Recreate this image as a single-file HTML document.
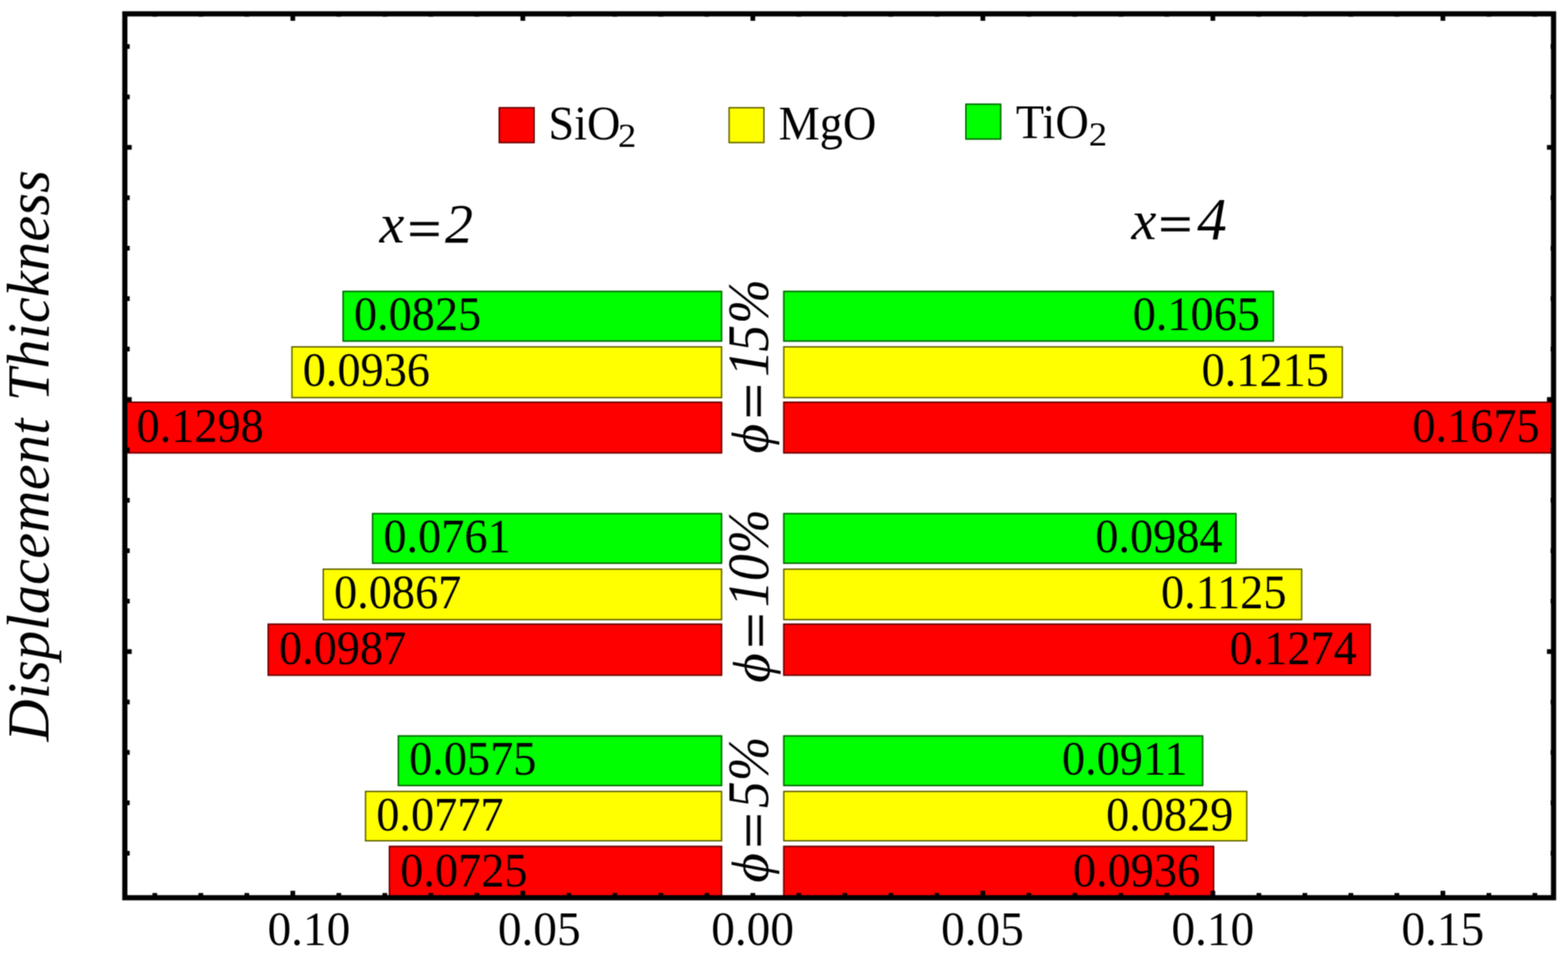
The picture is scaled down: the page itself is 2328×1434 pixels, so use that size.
<!DOCTYPE html>
<html lang="en"><head><meta charset="utf-8"><title>Displacement Thickness</title>
<style>
html,body{margin:0;padding:0;background:#fff;}
body{width:2328px;height:1434px;overflow:hidden;}
svg{display:block;}
text{font-family:"Liberation Serif","DejaVu Serif",serif;fill:#000;}
.v{font-size:71px;}
.i{font-style:italic;}
.bar{stroke:rgba(0,0,0,0.64);stroke-width:2.0;}
</style></head><body>
<svg width="2328" height="1434" viewBox="0 0 2328 1434" filter="url(#soft)">
<rect x="0" y="0" width="2328" height="1434" fill="#fff"/>
<defs><filter id="soft" x="0" y="0" width="100%" height="100%" color-interpolation-filters="sRGB"><feConvolveMatrix order="3" kernelMatrix="1 2 1 2 4 2 1 2 1" divisor="16" edgeMode="duplicate" preserveAlpha="true"/></filter><clipPath id="plot"><rect x="185.35" y="20.55" width="2121.2000000000003" height="1312.1000000000001"/></clipPath></defs>

<g clip-path="url(#plot)">
<rect x="508.45" y="431.60" width="563.85" height="75.70" fill="#00ff00"/>
<rect class="bar" x="509.45" y="432.60" width="561.85" height="73.70" fill="none"/>
<rect x="1162.70" y="431.60" width="728.85" height="75.70" fill="#00ff00"/>
<rect class="bar" x="1163.70" y="432.60" width="726.85" height="73.70" fill="none"/>
<rect x="432.45" y="513.90" width="639.85" height="77.30" fill="#ffff00"/>
<rect class="bar" x="433.45" y="514.90" width="637.85" height="75.30" fill="none"/>
<rect x="1162.70" y="513.90" width="831.20" height="77.30" fill="#ffff00"/>
<rect class="bar" x="1163.70" y="514.90" width="829.20" height="75.30" fill="none"/>
<rect x="185.70" y="596.10" width="886.60" height="77.20" fill="#ff0000"/>
<rect class="bar" x="186.70" y="597.10" width="884.60" height="75.20" fill="none"/>
<rect x="1162.70" y="596.10" width="1144.10" height="77.20" fill="#ff0000"/>
<rect class="bar" x="1163.70" y="597.10" width="1142.10" height="75.20" fill="none"/>
<rect x="552.20" y="761.50" width="520.10" height="75.60" fill="#00ff00"/>
<rect class="bar" x="553.20" y="762.50" width="518.10" height="73.60" fill="none"/>
<rect x="1162.70" y="761.50" width="673.35" height="75.60" fill="#00ff00"/>
<rect class="bar" x="1163.70" y="762.50" width="671.35" height="73.60" fill="none"/>
<rect x="478.95" y="843.90" width="593.35" height="76.90" fill="#ffff00"/>
<rect class="bar" x="479.95" y="844.90" width="591.35" height="74.90" fill="none"/>
<rect x="1162.70" y="843.90" width="770.85" height="76.90" fill="#ffff00"/>
<rect class="bar" x="1163.70" y="844.90" width="768.85" height="74.90" fill="none"/>
<rect x="397.20" y="925.60" width="675.10" height="77.70" fill="#ff0000"/>
<rect class="bar" x="398.20" y="926.60" width="673.10" height="75.70" fill="none"/>
<rect x="1162.70" y="925.60" width="872.60" height="77.70" fill="#ff0000"/>
<rect class="bar" x="1163.70" y="926.60" width="870.60" height="75.70" fill="none"/>
<rect x="590.45" y="1091.50" width="481.85" height="75.60" fill="#00ff00"/>
<rect class="bar" x="591.45" y="1092.50" width="479.85" height="73.60" fill="none"/>
<rect x="1162.70" y="1091.50" width="623.85" height="75.60" fill="#00ff00"/>
<rect class="bar" x="1163.70" y="1092.50" width="621.85" height="73.60" fill="none"/>
<rect x="541.70" y="1173.90" width="530.60" height="75.20" fill="#ffff00"/>
<rect class="bar" x="542.70" y="1174.90" width="528.60" height="73.20" fill="none"/>
<rect x="1162.70" y="1173.90" width="689.35" height="75.20" fill="#ffff00"/>
<rect class="bar" x="1163.70" y="1174.90" width="687.35" height="73.20" fill="none"/>
<rect x="577.20" y="1255.50" width="495.10" height="78.80" fill="#ff0000"/>
<rect class="bar" x="578.20" y="1256.50" width="493.10" height="76.80" fill="none"/>
<rect x="1162.70" y="1255.50" width="640.10" height="78.80" fill="#ff0000"/>
<rect class="bar" x="1163.70" y="1256.50" width="638.10" height="76.80" fill="none"/>
</g>
<text font-size="71" transform="translate(525.45 490.20) scale(0.968 1)">0.0825</text>
<text font-size="71" transform="translate(1681.65 490.20) scale(0.968 1)">0.1065</text>
<text font-size="71" transform="translate(449.45 573.20) scale(0.968 1)">0.0936</text>
<text font-size="71" transform="translate(1784.00 573.20) scale(0.968 1)">0.1215</text>
<text font-size="71" transform="translate(202.70 656.20) scale(0.968 1)">0.1298</text>
<text font-size="71" transform="translate(2096.90 656.20) scale(0.968 1)">0.1675</text>
<text font-size="71" transform="translate(569.20 820.00) scale(0.968 1)">0.0761</text>
<text font-size="71" transform="translate(1626.15 820.00) scale(0.968 1)">0.0984</text>
<text font-size="71" transform="translate(495.95 903.00) scale(0.968 1)">0.0867</text>
<text font-size="71" transform="translate(1723.65 903.00) scale(0.968 1)">0.1125</text>
<text font-size="71" transform="translate(414.20 986.00) scale(0.968 1)">0.0987</text>
<text font-size="71" transform="translate(1825.40 986.00) scale(0.968 1)">0.1274</text>
<text font-size="71" transform="translate(607.45 1149.80) scale(0.968 1)">0.0575</text>
<text font-size="71" transform="translate(1576.65 1149.80) scale(0.968 1)">0.0911</text>
<text font-size="71" transform="translate(558.70 1232.80) scale(0.968 1)">0.0777</text>
<text font-size="71" transform="translate(1642.15 1232.80) scale(0.968 1)">0.0829</text>
<text font-size="71" transform="translate(594.20 1315.80) scale(0.968 1)">0.0725</text>
<text font-size="71" transform="translate(1592.90 1315.80) scale(0.968 1)">0.0936</text>
<g stroke="#000" stroke-width="7" fill="none">
<line x1="229.85" y1="1332.65" x2="229.85" y2="1325.65"/>
<line x1="229.85" y1="20.55" x2="229.85" y2="24.60"/>
<line x1="298.15" y1="1332.65" x2="298.15" y2="1325.65"/>
<line x1="298.15" y1="20.55" x2="298.15" y2="24.60"/>
<line x1="366.45" y1="1332.65" x2="366.45" y2="1325.65"/>
<line x1="366.45" y1="20.55" x2="366.45" y2="24.60"/>
<line x1="434.75" y1="1332.65" x2="434.75" y2="1322.35"/>
<line x1="434.75" y1="20.55" x2="434.75" y2="30.85"/>
<line x1="503.05" y1="1332.65" x2="503.05" y2="1325.65"/>
<line x1="503.05" y1="20.55" x2="503.05" y2="24.60"/>
<line x1="571.35" y1="1332.65" x2="571.35" y2="1325.65"/>
<line x1="571.35" y1="20.55" x2="571.35" y2="24.60"/>
<line x1="639.65" y1="1332.65" x2="639.65" y2="1325.65"/>
<line x1="639.65" y1="20.55" x2="639.65" y2="24.60"/>
<line x1="707.95" y1="1332.65" x2="707.95" y2="1325.65"/>
<line x1="707.95" y1="20.55" x2="707.95" y2="24.60"/>
<line x1="776.25" y1="1332.65" x2="776.25" y2="1322.35"/>
<line x1="776.25" y1="20.55" x2="776.25" y2="30.85"/>
<line x1="844.55" y1="1332.65" x2="844.55" y2="1325.65"/>
<line x1="844.55" y1="20.55" x2="844.55" y2="24.60"/>
<line x1="912.85" y1="1332.65" x2="912.85" y2="1325.65"/>
<line x1="912.85" y1="20.55" x2="912.85" y2="24.60"/>
<line x1="981.15" y1="1332.65" x2="981.15" y2="1325.65"/>
<line x1="981.15" y1="20.55" x2="981.15" y2="24.60"/>
<line x1="1049.45" y1="1332.65" x2="1049.45" y2="1325.65"/>
<line x1="1049.45" y1="20.55" x2="1049.45" y2="24.60"/>
<line x1="1117.75" y1="1332.65" x2="1117.75" y2="1325.65"/>
<line x1="1117.75" y1="20.55" x2="1117.75" y2="30.85"/>
<line x1="1186.05" y1="1332.65" x2="1186.05" y2="1325.65"/>
<line x1="1186.05" y1="20.55" x2="1186.05" y2="24.60"/>
<line x1="1254.35" y1="1332.65" x2="1254.35" y2="1325.65"/>
<line x1="1254.35" y1="20.55" x2="1254.35" y2="24.60"/>
<line x1="1322.65" y1="1332.65" x2="1322.65" y2="1325.65"/>
<line x1="1322.65" y1="20.55" x2="1322.65" y2="24.60"/>
<line x1="1390.95" y1="1332.65" x2="1390.95" y2="1325.65"/>
<line x1="1390.95" y1="20.55" x2="1390.95" y2="24.60"/>
<line x1="1459.25" y1="1332.65" x2="1459.25" y2="1322.35"/>
<line x1="1459.25" y1="20.55" x2="1459.25" y2="30.85"/>
<line x1="1527.55" y1="1332.65" x2="1527.55" y2="1325.65"/>
<line x1="1527.55" y1="20.55" x2="1527.55" y2="24.60"/>
<line x1="1595.85" y1="1332.65" x2="1595.85" y2="1325.65"/>
<line x1="1595.85" y1="20.55" x2="1595.85" y2="24.60"/>
<line x1="1664.15" y1="1332.65" x2="1664.15" y2="1325.65"/>
<line x1="1664.15" y1="20.55" x2="1664.15" y2="24.60"/>
<line x1="1732.45" y1="1332.65" x2="1732.45" y2="1325.65"/>
<line x1="1732.45" y1="20.55" x2="1732.45" y2="24.60"/>
<line x1="1800.75" y1="1332.65" x2="1800.75" y2="1322.35"/>
<line x1="1800.75" y1="20.55" x2="1800.75" y2="30.85"/>
<line x1="1869.05" y1="1332.65" x2="1869.05" y2="1325.65"/>
<line x1="1869.05" y1="20.55" x2="1869.05" y2="24.60"/>
<line x1="1937.35" y1="1332.65" x2="1937.35" y2="1325.65"/>
<line x1="1937.35" y1="20.55" x2="1937.35" y2="24.60"/>
<line x1="2005.65" y1="1332.65" x2="2005.65" y2="1325.65"/>
<line x1="2005.65" y1="20.55" x2="2005.65" y2="24.60"/>
<line x1="2073.95" y1="1332.65" x2="2073.95" y2="1325.65"/>
<line x1="2073.95" y1="20.55" x2="2073.95" y2="24.60"/>
<line x1="2142.25" y1="1332.65" x2="2142.25" y2="1322.35"/>
<line x1="2142.25" y1="20.55" x2="2142.25" y2="30.85"/>
<line x1="2210.55" y1="1332.65" x2="2210.55" y2="1325.65"/>
<line x1="2210.55" y1="20.55" x2="2210.55" y2="24.60"/>
<line x1="2278.85" y1="1332.65" x2="2278.85" y2="1325.65"/>
<line x1="2278.85" y1="20.55" x2="2278.85" y2="24.60"/>
<line x1="185.35" y1="69.05" x2="192.55" y2="69.05"/>
<line x1="2306.55" y1="69.05" x2="2302.25" y2="69.05"/>
<line x1="185.35" y1="143.90" x2="192.55" y2="143.90"/>
<line x1="2306.55" y1="143.90" x2="2302.25" y2="143.90"/>
<line x1="185.35" y1="218.75" x2="195.55" y2="218.75"/>
<line x1="2306.55" y1="218.75" x2="2296.75" y2="218.75"/>
<line x1="185.35" y1="293.60" x2="192.55" y2="293.60"/>
<line x1="2306.55" y1="293.60" x2="2302.25" y2="293.60"/>
<line x1="185.35" y1="368.45" x2="192.55" y2="368.45"/>
<line x1="2306.55" y1="368.45" x2="2302.25" y2="368.45"/>
<line x1="185.35" y1="443.30" x2="192.55" y2="443.30"/>
<line x1="2306.55" y1="443.30" x2="2302.25" y2="443.30"/>
<line x1="185.35" y1="518.15" x2="192.55" y2="518.15"/>
<line x1="2306.55" y1="518.15" x2="2302.25" y2="518.15"/>
<line x1="185.35" y1="593.00" x2="195.55" y2="593.00"/>
<line x1="2306.55" y1="593.00" x2="2296.75" y2="593.00"/>
<line x1="185.35" y1="667.85" x2="192.55" y2="667.85"/>
<line x1="2306.55" y1="667.85" x2="2302.25" y2="667.85"/>
<line x1="185.35" y1="742.70" x2="192.55" y2="742.70"/>
<line x1="2306.55" y1="742.70" x2="2302.25" y2="742.70"/>
<line x1="185.35" y1="817.55" x2="192.55" y2="817.55"/>
<line x1="2306.55" y1="817.55" x2="2302.25" y2="817.55"/>
<line x1="185.35" y1="892.40" x2="192.55" y2="892.40"/>
<line x1="2306.55" y1="892.40" x2="2302.25" y2="892.40"/>
<line x1="185.35" y1="967.25" x2="195.55" y2="967.25"/>
<line x1="2306.55" y1="967.25" x2="2296.75" y2="967.25"/>
<line x1="185.35" y1="1042.10" x2="192.55" y2="1042.10"/>
<line x1="2306.55" y1="1042.10" x2="2302.25" y2="1042.10"/>
<line x1="185.35" y1="1116.95" x2="192.55" y2="1116.95"/>
<line x1="2306.55" y1="1116.95" x2="2302.25" y2="1116.95"/>
<line x1="185.35" y1="1191.80" x2="192.55" y2="1191.80"/>
<line x1="2306.55" y1="1191.80" x2="2302.25" y2="1191.80"/>
<line x1="185.35" y1="1266.65" x2="192.55" y2="1266.65"/>
<line x1="2306.55" y1="1266.65" x2="2302.25" y2="1266.65"/>
</g>
<rect x="185.35" y="20.55" width="2121.2000000000003" height="1312.1000000000001" fill="none" stroke="#000" stroke-width="7.7"/>
<text font-size="72" transform="translate(397.20 1402.90) scale(0.975 1)">0.10</text>
<text font-size="72" transform="translate(739.20 1402.90) scale(0.975 1)">0.05</text>
<text font-size="72" transform="translate(1055.95 1402.90) scale(0.975 1)">0.00</text>
<text font-size="72" transform="translate(1397.20 1402.90) scale(0.975 1)">0.05</text>
<text font-size="72" transform="translate(1739.20 1402.90) scale(0.975 1)">0.10</text>
<text font-size="72" transform="translate(2080.70 1402.90) scale(0.975 1)">0.15</text>
<rect x="740.30" y="158.90" width="53.70" height="53.70" fill="#ff0000"/>
<rect class="bar" x="741.30" y="159.90" width="51.70" height="51.70" fill="none"/>
<text font-size="71" transform="translate(814.30 207.00) scale(0.968 1)">SiO<tspan x="106.7" dy="11.2" font-size="50" textLength="28.1" lengthAdjust="spacingAndGlyphs">2</tspan></text>
<rect x="1081.50" y="158.90" width="53.70" height="53.70" fill="#ffff00"/>
<rect class="bar" x="1082.50" y="159.90" width="51.70" height="51.70" fill="none"/>
<text font-size="71" transform="translate(1156.00 207.00) scale(0.968 1)">MgO</text>
<rect x="1433.00" y="153.70" width="53.70" height="53.70" fill="#00ff00"/>
<rect class="bar" x="1434.00" y="154.70" width="51.70" height="51.70" fill="none"/>
<text font-size="71" transform="translate(1508.30 204.90) scale(0.968 1)">TiO<tspan x="111.7" dy="11.2" font-size="50" textLength="28.1" lengthAdjust="spacingAndGlyphs">2</tspan></text>
<text class="i" y="360" font-size="83"><tspan x="563.6">x</tspan><tspan x="599.6" dy="7.4" font-size="80" stroke="#000" stroke-width="1.05" textLength="59.7" lengthAdjust="spacingAndGlyphs">=</tspan><tspan x="660.8" dy="-7.4">2</tspan></text>
<text class="i" y="355.2" font-size="83"><tspan x="1679.9">x</tspan><tspan x="1714.6" dy="4.6" font-size="80" stroke="#000" stroke-width="1.05" textLength="59.7" lengthAdjust="spacingAndGlyphs">=</tspan><tspan x="1777.6" dy="-4.6" font-size="88">4</tspan></text>
<text class="i" font-size="86" transform="translate(1139.8 673.3) rotate(-90) scale(0.922 1)" y="0"><tspan x="0.0" font-size="78" textLength="47.9" lengthAdjust="spacingAndGlyphs">ϕ</tspan> <tspan x="49.1" dy="5.6" stroke="#000" stroke-width="1.3" font-size="79" textLength="68.5" lengthAdjust="spacingAndGlyphs">=</tspan> <tspan x="123.4" dy="-5.6">1</tspan><tspan x="164.1">5</tspan><tspan x="209.1">%</tspan></text>
<text class="i" font-size="86" transform="translate(1139.8 1013.7) rotate(-90) scale(0.922 1)" y="0"><tspan x="0.0" dy="2.3" font-size="78" textLength="47.9" lengthAdjust="spacingAndGlyphs">ϕ</tspan> <tspan x="49.1" dy="5.6" stroke="#000" stroke-width="1.3" font-size="79" textLength="68.5" lengthAdjust="spacingAndGlyphs">=</tspan> <tspan x="121.6" dy="-7.9">1</tspan><tspan x="164.1">0</tspan><tspan x="208.0">%</tspan></text>
<text class="i" font-size="86" transform="translate(1139.8 1310.4) rotate(-90) scale(0.922 1)" y="0"><tspan x="0.0" font-size="78" textLength="47.9" lengthAdjust="spacingAndGlyphs">ϕ</tspan> <tspan x="49.1" dy="5.6" stroke="#000" stroke-width="1.3" font-size="79" textLength="68.5" lengthAdjust="spacingAndGlyphs">=</tspan> <tspan x="120.2" dy="-5.6">5</tspan><tspan x="163.6">%</tspan></text>
<text class="i" font-size="89" transform="translate(72.3 1100.8) rotate(-90) scale(0.972 1)" y="0"><tspan x="0.0">D</tspan><tspan x="64.8">i</tspan><tspan x="89.7">s</tspan><tspan x="124.7">p</tspan><tspan x="169.5">l</tspan><tspan x="194.5">a</tspan><tspan x="239.3">c</tspan><tspan x="279.2">e</tspan><tspan x="319.0">m</tspan><tspan x="383.8">e</tspan><tspan x="423.6">n</tspan><tspan x="468.5">t</tspan> <tspan x="519.5">T</tspan><tspan x="569.4">h</tspan><tspan x="614.2">i</tspan><tspan x="639.0">c</tspan><tspan x="678.8">k</tspan><tspan x="718.6">n</tspan><tspan x="763.3">e</tspan><tspan x="803.1">s</tspan><tspan x="838.0">s</tspan></text>
</svg></body></html>
